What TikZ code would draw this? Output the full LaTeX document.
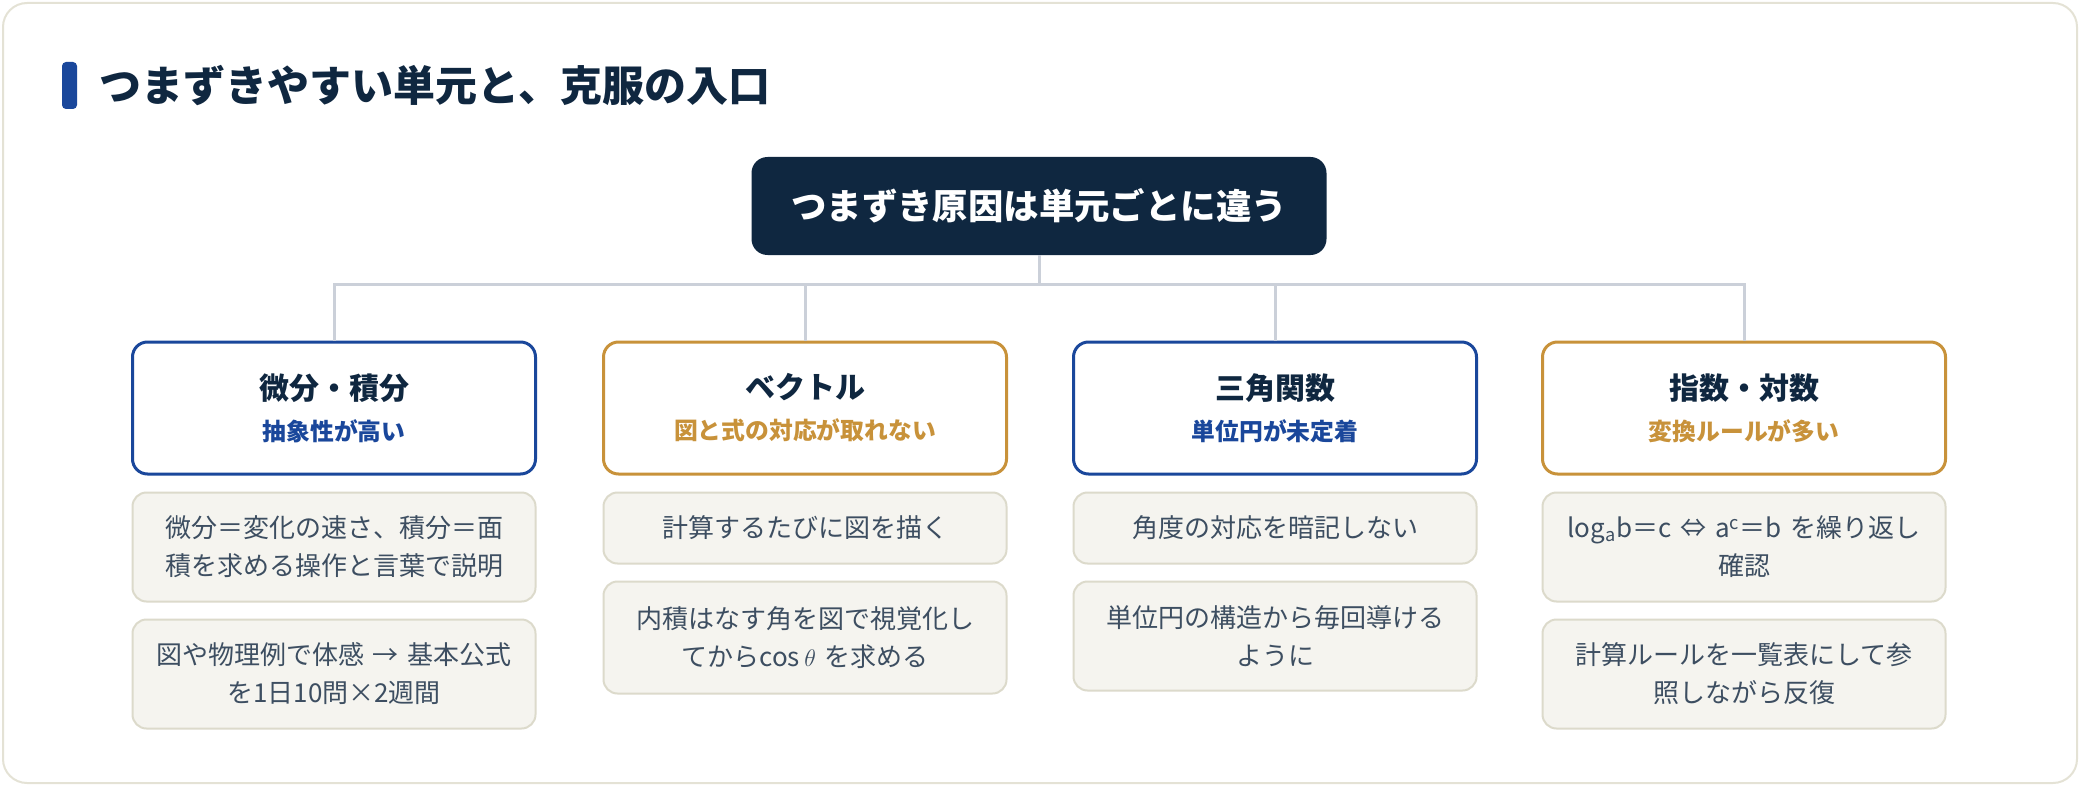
\documentclass[tikz,border=0pt]{standalone}
\usepackage{fontspec}
\setmainfont{Noto Sans CJK JP}
\newfontfamily\medfont{Noto Sans CJK JP Medium}
\usetikzlibrary{positioning}

\definecolor{navy}{HTML}{0F2740}
\definecolor{unitblue}{HTML}{1A479B}
\definecolor{unitgold}{HTML}{C8923A}
\definecolor{tipfill}{HTML}{F5F4EF}
\definecolor{tipline}{HTML}{DCDACB}
\definecolor{tiptext}{HTML}{3D4E61}
\definecolor{linkgray}{HTML}{CBD0D9}
\definecolor{framegray}{HTML}{E4E2D5}

\newcommand{\subline}[1]{\medfont\fontsize{11.9}{14}\selectfont\color{#1}}

\begin{document}
\begin{tikzpicture}[
    x=0.5pt, y=-0.5pt,
    node distance=8pt,
    link/.style={draw=linkgray, line width=1.5pt},
    root/.style={fill=navy, text=white, rounded corners=8pt,
        minimum width=287.5pt, minimum height=49pt,
        font=\fontsize{17.7}{20}\selectfont\bfseries},
    unit/.style={draw=#1, line width=1.5pt, fill=white, rounded corners=7.5pt,
        minimum width=201.5pt, minimum height=66pt, inner sep=0pt,
        align=center, text=navy, font=\fontsize{15}{16.5}\selectfont\bfseries},
    tip/.style={draw=tipline, line width=1pt, fill=tipfill, rounded corners=7pt,
        minimum width=201.5pt, minimum height=35.5pt, text width=190pt,
        inner xsep=5pt, align=center, text=tiptext,
        font=\fontsize{13}{19}\selectfont},
    tall/.style={minimum height=#1}
]

\useasboundingbox (0,0) rectangle (2080,786);

% frame
\draw[draw=framegray, line width=1pt, fill=white, rounded corners=12pt]
    (3,3) rectangle (2077,783);

% heading
\node[fill=unitblue, rounded corners=2pt, minimum width=7.5pt,
    minimum height=23.5pt, inner sep=0pt] (bar) at (69.5,85.5) {};
\node[anchor=west, inner sep=0pt, text=navy,
    font=\fontsize{21}{24}\selectfont\bfseries]
    (title) at ([xshift=11pt]bar.east) {つまずきやすい単元と、克服の入口};

% root
\node[root] (root) at (1039,206) {つまずき原因は単元ごとに違う};

% units
\node[unit=unitblue] (u1) at (334,408)
    {微分・積分\\[4pt]{\subline{unitblue}抽象性が高い}};
\node[unit=unitgold] (u2) at (805,408)
    {ベクトル\\[4pt]{\subline{unitgold}図と式の対応が取れない}};
\node[unit=unitblue] (u3) at (1275,408)
    {三角関数\\[4pt]{\subline{unitblue}単位円が未定着}};
\node[unit=unitgold] (u4) at (1744,408)
    {指数・対数\\[4pt]{\subline{unitgold}変換ルールが多い}};

% tips
\node[tip, tall=54.5pt, below=of u1] (t11)
    {微分＝変化の速さ、積分＝面\\積を求める操作と言葉で説明};
\node[tip, tall=54.5pt, below=of t11] (t12)
    {図や物理例で体感 → 基本公式\\を1日10問×2週間};

\node[tip, below=of u2] (t21) {計算するたびに図を描く};
\node[tip, tall=56pt, below=of t21] (t22)
    {内積はなす角を図で視覚化し\\てからcos\,$\theta$ を求める};

\node[tip, below=of u3] (t31) {角度の対応を暗記しない};
\node[tip, tall=54.5pt, below=of t31] (t32)
    {単位円の構造から毎回導ける\\ように};

\node[tip, tall=54.5pt, below=of u4] (t41)
    {log\textsubscript{a}b＝c ⇔ a\textsuperscript{c}＝b を繰り返し\\確認};
\node[tip, tall=54.5pt, below=of t41] (t42)
    {計算ルールを一覧表にして参\\照しながら反復};

% links
\coordinate (hub) at (1039,284);
\draw[link] (root.south) -- (hub);
\draw[link] (u1.north) |- (hub) -| (u4.north);
\draw[link] (u2.north |- hub) -- (u2.north);
\draw[link] (u3.north |- hub) -- (u3.north);

\end{tikzpicture}
\end{document}
